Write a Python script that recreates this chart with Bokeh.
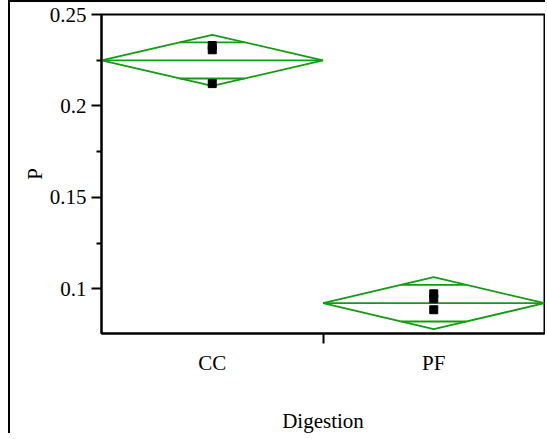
import math
from bokeh.plotting import figure
from bokeh.models import FixedTicker, Range1d
from bokeh.embed import file_html
from bokeh.resources import INLINE

# ---- data ----
groups = ["CC", "PF"]
group_means = [0.2249, 0.0921]
ci_half = [0.0140, 0.0142]
cc_points = [0.2330, 0.2307, 0.2122]
pf_points = [0.0972, 0.0945, 0.0885]
y_ticks = [0.10, 0.15, 0.20, 0.25]
y_tick_labels = ["0.1", "0.15", "0.2", "0.25"]
y_minor_ticks = [0.125, 0.175, 0.225]

GREEN = "#109e10"
FONT = "Liberation Serif"
FS = "21px"

p = figure(width=537, height=433, x_range=Range1d(0, 2), y_range=Range1d(0.0755, 0.25),
           output_backend="svg", toolbar_location=None,
           min_border_left=91, min_border_right=3, min_border_top=12, min_border_bottom=102)
p.margin = (0, 0, 0, 8)
p.styles = {"border-left": "2px solid black", "border-top": "2px solid black"}
p.grid.visible = False
p.outline_line_color = "black"
p.outline_line_width = 2
p.background_fill_color = "white"
p.border_fill_color = "white"

# means diamonds
for i, g in enumerate(groups):
    x0, x1 = i, i + 1
    c = i + 0.5
    m = group_means[i]
    h = ci_half[i]
    p.line([x0, c, x1, c, x0], [m, m + h, m, m - h, m], line_color=GREEN, line_width=1.8)
    p.line([x0, x1], [m, m], line_color=GREEN, line_width=1.8)
    o = h / math.sqrt(2)
    w = 0.5 * (1 - o / h)
    for yy in (m + o, m - o):
        p.line([c - w, c + w], [yy, yy], line_color=GREEN, line_width=1.8)

# points
p.scatter([0.5] * len(cc_points), cc_points, marker="square", size=8,
          fill_color="black", line_color="black")
p.scatter([1.5] * len(pf_points), pf_points, marker="square", size=8,
          fill_color="black", line_color="black")

# x axis
xa = p.xaxis[0]
xa.ticker = FixedTicker(ticks=[0.5, 1.5], minor_ticks=[1.0])
xa.major_label_overrides = {0.5: groups[0], 1.5: groups[1]}
xa.major_tick_out = 0
xa.major_tick_in = 0
xa.minor_tick_out = 10
xa.minor_tick_in = 0
xa.minor_tick_line_width = 2
xa.axis_line_width = 2
xa.axis_label = "Digestion"
xa.major_label_standoff = 7
xa.axis_label_standoff = 31

# y axis
ya = p.yaxis[0]
ya.ticker = FixedTicker(ticks=y_ticks, minor_ticks=y_minor_ticks)
ya.major_label_overrides = {t: l for t, l in zip(y_ticks, y_tick_labels)}
ya.major_tick_out = 10
ya.major_tick_in = 0
ya.minor_tick_out = 5
ya.minor_tick_in = 0
ya.major_tick_line_width = 2
ya.minor_tick_line_width = 2
ya.axis_line_width = 2
ya.axis_label = "P"
ya.major_label_standoff = 5
ya.axis_label_standoff = 0

for ax in (xa, ya):
    ax.major_label_text_font = FONT
    ax.major_label_text_font_size = FS
    ax.major_label_text_color = "black"
    ax.axis_label_text_font = FONT
    ax.axis_label_text_font_size = FS
    ax.axis_label_text_font_style = "normal"
    ax.axis_label_text_color = "black"
    ax.axis_line_color = "black"

open("out.html", "w").write(file_html(p, INLINE))
